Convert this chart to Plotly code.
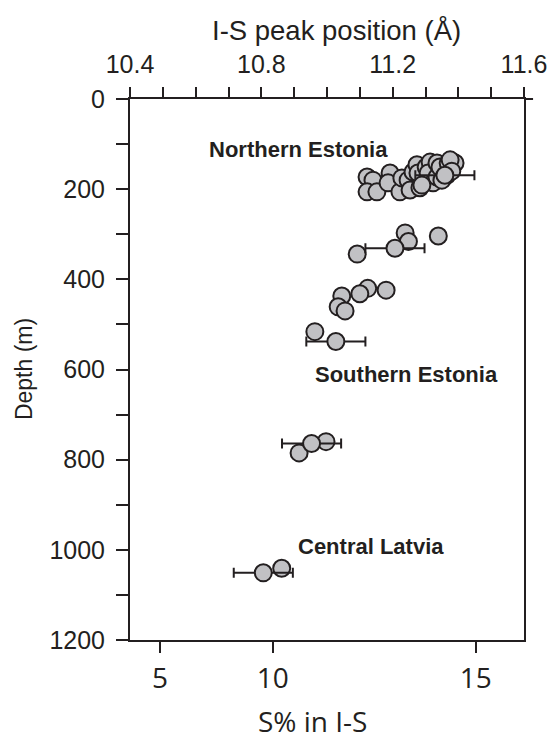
import plotly.graph_objects as go

# I-S peak position (Å) against depth (m), by region
north_peak = [11.122, 11.140, 11.122, 11.152, 11.192, 11.186, 11.222, 11.228, 11.247, 11.253,
              11.262, 11.274, 11.283, 11.277, 11.302, 11.308, 11.314, 11.308, 11.323, 11.335,
              11.335, 11.344, 11.365, 11.369, 11.384, 11.390, 11.375, 11.289, 11.350, 11.380]
north_depth = [173, 180, 206, 206, 164, 186, 206, 175, 180, 202,
               162, 146, 197, 164, 151, 180, 140, 164, 186, 142,
               173, 151, 169, 142, 140, 142, 135, 191, 180, 160]

south_peak = [11.238, 11.248, 11.339, 11.092, 11.124, 11.100, 11.180, 11.045, 11.034, 11.055,
              10.963, 10.997, 10.915]
south_depth = [297, 316, 304, 344, 420, 432, 424, 437, 461, 470,
               516, 760, 785]

latvia_peak = [10.862]
latvia_depth = [1041]

# samples shown with their peak-position uncertainty
err_peak = [11.359, 11.207, 11.027, 10.953, 10.806]
err_depth = [169, 331, 538, 764, 1051]
err_size = [0.09, 0.09, 0.09, 0.09, 0.09]

# upper axis ticks (Å)
peak_ticks = [10.4, 10.8, 11.2, 11.6]
# lower axis: S% in I-S, placed at the equivalent peak positions
s_pct_text = ["5", "10", "15"]
s_pct_at_peak = [10.491, 10.835, 11.453]
# depth ticks (m)
depth_ticks = [0, 200, 400, 600, 800, 1000, 1200]

dark = "#231f20"
fill = "#c1c1c4"
arial = "Liberation Sans"
marker = dict(size=17, color=fill, line=dict(color=dark, width=2))

fig = go.Figure()
for px, dy in [(north_peak, north_depth), (south_peak, south_depth), (latvia_peak, latvia_depth)]:
    fig.add_trace(go.Scatter(x=px, y=dy, mode="markers", marker=marker,
                             showlegend=False, hoverinfo="skip"))
# error-bar samples live on the upper (peak position) axis
fig.add_trace(go.Scatter(
    x=err_peak, y=err_depth, xaxis="x2", yaxis="y", mode="markers", marker=marker,
    showlegend=False, hoverinfo="skip",
    error_x=dict(type="data", array=err_size, color=dark, thickness=2, width=5),
))

fig.update_layout(
    width=549, height=739, autosize=False,
    margin=dict(l=130, r=25, t=99, b=99),
    paper_bgcolor="white", plot_bgcolor="white",
    font=dict(family=arial, color=dark),
    xaxis=dict(
        range=[10.4, 11.6], tickmode="array", tickvals=s_pct_at_peak, ticktext=s_pct_text,
        ticks="outside", ticklen=11, tickwidth=2, tickcolor=dark, automargin=False,
        showline=True, linewidth=2, linecolor=dark, showgrid=False, zeroline=False,
        tickfont=dict(family="Open Sans", size=28, color=dark), ticklabelstandoff=1,
    ),
    xaxis2=dict(
        range=[10.4, 11.6], overlaying="x", side="top", anchor="y", automargin=False,
        tickmode="array", tickvals=peak_ticks, tickformat=".1f",
        ticks="outside", ticklen=10, tickwidth=2, tickcolor=dark,
        minor=dict(dtick=0.1, ticks="outside", ticklen=10, tickwidth=2, tickcolor=dark),
        showline=True, linewidth=2, linecolor=dark, showgrid=False, zeroline=False,
        tickfont=dict(family=arial, size=25, color=dark), ticklabelstandoff=4,
    ),
    yaxis=dict(
        range=[1200, 0], tickmode="array", tickvals=depth_ticks, automargin=False,
        ticks="outside", ticklen=12, tickwidth=2, tickcolor=dark,
        minor=dict(dtick=100, ticks="outside", ticklen=12, tickwidth=2, tickcolor=dark),
        showline=True, linewidth=2, linecolor=dark, mirror=True,
        showgrid=False, zeroline=False, ticklabelstandoff=6,
        tickfont=dict(family=arial, size=25, color=dark),
    ),
    annotations=[
        dict(text="I-S peak position (Å)", xref="paper", yref="paper", x=0.523, y=1.1275,
             showarrow=False, font=dict(family=arial, size=27.5, color=dark),
             xanchor="center", yanchor="middle"),
        dict(text="S% in I-S", xref="paper", yref="paper", x=0.462, y=-0.15,
             showarrow=False, font=dict(family="Open Sans", size=28, color=dark),
             xanchor="center", yanchor="middle"),
        dict(text="Depth (m)", xref="paper", yref="paper", x=-0.27, y=0.5, textangle=-90,
             showarrow=False, font=dict(family=arial, size=23, color=dark),
             xanchor="center", yanchor="middle"),
        dict(text="<b>Northern Estonia</b>", x=10.912, y=112, xref="x", yref="y",
             showarrow=False, font=dict(family=arial, size=22, color=dark),
             xanchor="center", yanchor="middle"),
        dict(text="<b>Southern Estonia</b>", x=11.242, y=610, xref="x", yref="y",
             showarrow=False, font=dict(family=arial, size=22, color=dark),
             xanchor="center", yanchor="middle"),
        dict(text="<b>Central Latvia</b>", x=11.134, y=993, xref="x", yref="y",
             showarrow=False, font=dict(family=arial, size=22, color=dark),
             xanchor="center", yanchor="middle"),
    ],
    shapes=[
        # short overhang of the top frame line past the right edge
        dict(type="line", xref="paper", yref="paper", x0=1, x1=1.023, y0=1, y1=1,
             line=dict(color=dark, width=2)),
    ],
)

fig.write_html("out.html")
